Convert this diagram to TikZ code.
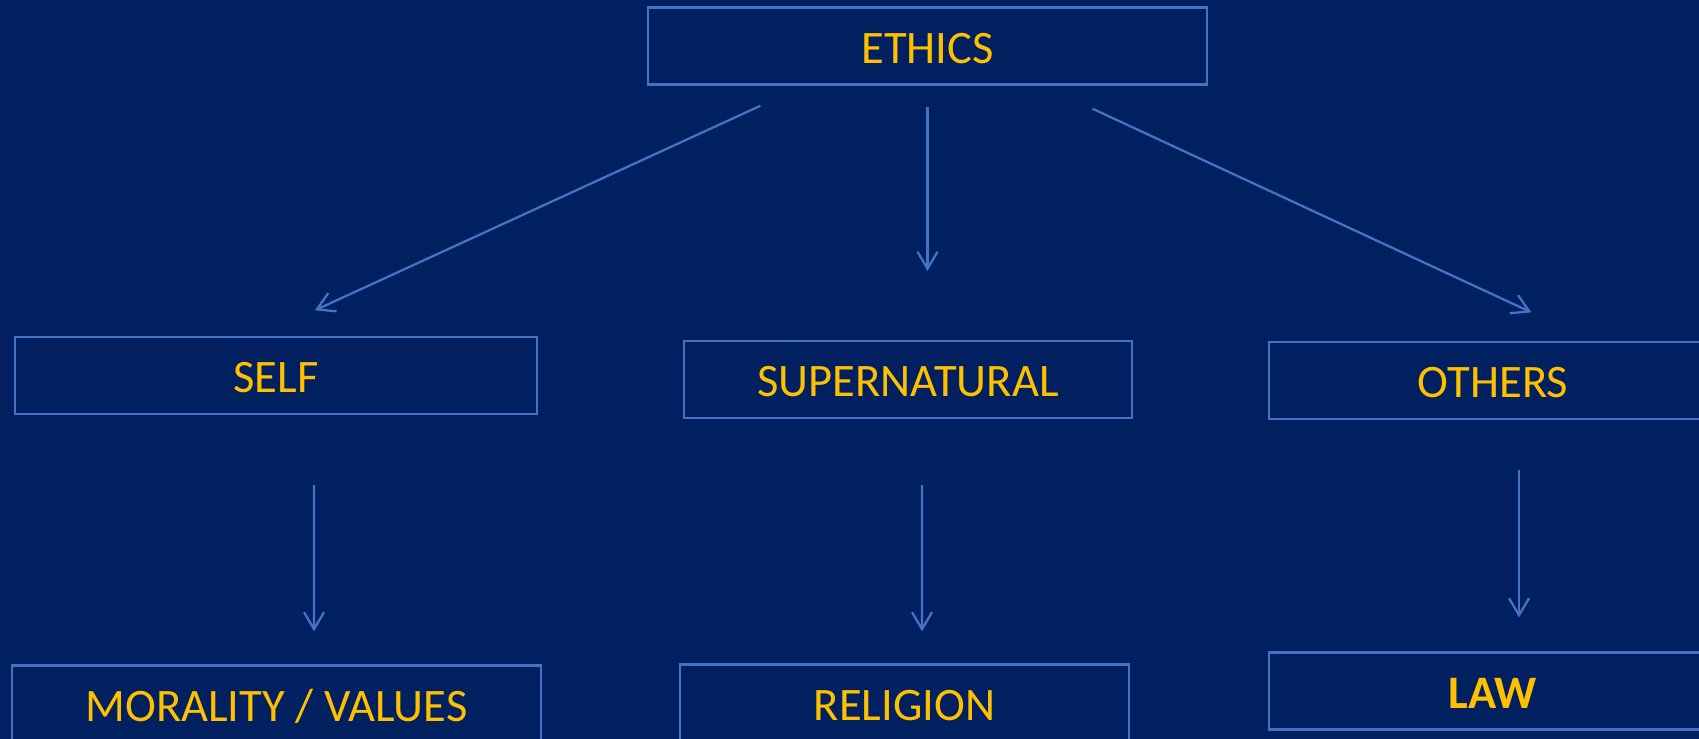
\documentclass[tikz,border=0pt]{standalone}
\usepackage{fontspec}
\setmainfont{Carlito}
\usetikzlibrary{arrows.meta,calc}
\definecolor{navy}{HTML}{002060}
\definecolor{boxblue}{HTML}{4472C4}
\definecolor{gold}{HTML}{FFC000}
\begin{document}
\begin{tikzpicture}[x=0.02cm,y=-0.02cm,
  box/.style={draw=boxblue,line width=1.2pt,text=gold,minimum height=1.54cm,
    inner sep=0pt,text height=19.5pt,text depth=0pt,font=\fontsize{26.5}{30}\selectfont},
  arr/.style={draw=boxblue,line width=1.3pt,-{Straight Barb[length=0.34cm,width=0.4cm]}}]

\useasboundingbox (0,0) rectangle (1699,739);
\fill[navy] (0,0) rectangle (1699,739); % sfondo

\node[box,minimum width=11.18cm] (ethics) at (927.5,46) {ETHICS};

\node[box,minimum width=10.44cm] (self) at (276,375.5) {SELF};
\node[box,minimum width=8.96cm] (super) at (908,379.5) {SUPERNATURAL};
\node[box,minimum width=8.96cm] (others) at (1493,380.5) {OTHERS};

\node[box,minimum width=10.58cm] (morals) at (276.5,704) {MORALITY / VALUES};
\node[box,minimum width=8.98cm] (religion) at (904.5,703) {RELIGION};
\node[box,minimum width=8.96cm,font=\fontsize{26.5}{30}\selectfont\bfseries] (law) at (1493,691) {LAW};

% primo livello
\draw[arr,shorten <=0.97cm,shorten >=1.23cm] ($(ethics.south)+(-123,0)$) -- ($(self.north)+(-17,0)$);
\draw[arr,shorten <=0.43cm,shorten >=1.38cm] (ethics.south) -- (ethics.south |- super.north);
\draw[arr,shorten <=1.1cm,shorten >=1.36cm] ($(ethics.south)+(115,0)$) -- ($(others.north)+(100,0)$);

% secondo livello
\draw[arr,shorten <=1.4cm,shorten >=0.66cm] ($(self.south)+(38,0)$) -- ($(morals.north)+(37.5,0)$);
\draw[arr,shorten <=1.32cm,shorten >=0.64cm] ($(super.south)+(14,0)$) -- ($(religion.north)+(17.5,0)$);
\draw[arr,shorten <=1.0cm,shorten >=0.68cm] ($(others.south)+(26,0)$) -- ($(law.north)+(26,0)$);

\end{tikzpicture}
\end{document}
